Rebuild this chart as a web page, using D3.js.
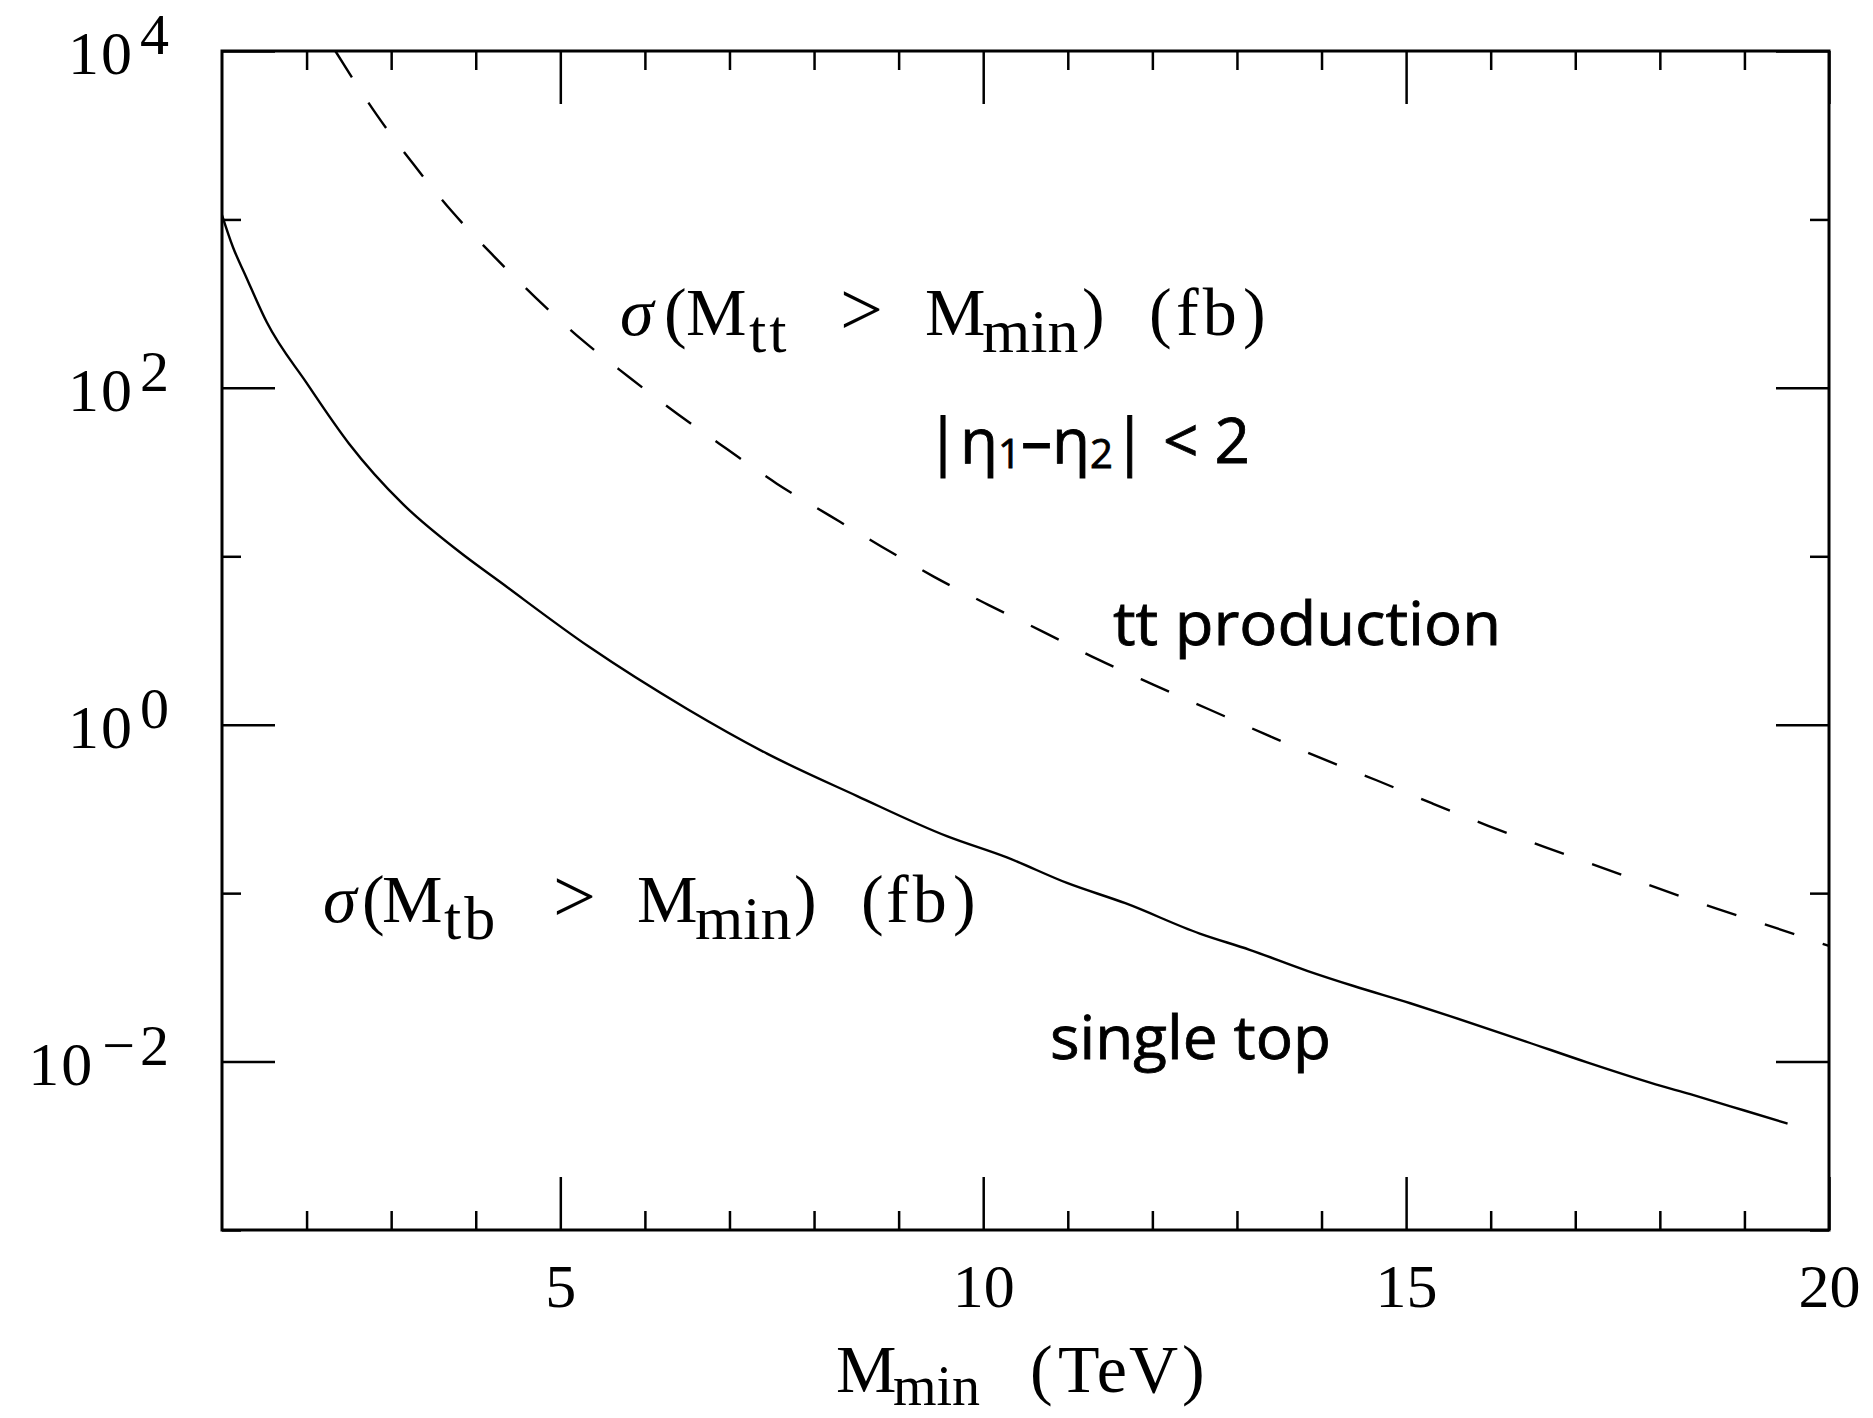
<!DOCTYPE html>
<html>
<head>
<meta charset="utf-8">
<script src="https://cdn.jsdelivr.net/npm/d3@7"></script>
<style>
  html, body { margin: 0; padding: 0; background: #fff; }
  svg { display: block; }
</style>
</head>
<body>
<script>
// Integrated cross sections above a minimum invariant mass, M_min in TeV, sigma in fb.

// Single top: sigma(M_tb > M_min)
const singleTopMmin = [1.0, 1.13, 1.28, 1.53, 2.0, 2.5, 3.14, 3.81, 4.29, 5.34, 6.5, 7.45, 8.51,
  9.57, 10.28, 10.99, 11.68, 12.56, 13.15, 13.83, 14.38, 15.05, 15.51, 16.41, 17.14, 17.95,
  18.36, 18.99, 19.51];
const singleTopSigma = [1062, 684, 462, 245, 107, 46.8, 20.4, 10.6, 7.03, 2.90, 1.24, 0.671, 0.377,
  0.218, 0.163, 0.115, 0.0871, 0.0575, 0.0461, 0.0346, 0.0281, 0.0222, 0.0187, 0.0132, 0.00989,
  0.00733, 0.0064, 0.00514, 0.00428];

// tt production: sigma(M_tt > M_min)
const ttbarMmin = [2.34, 2.83, 3.26, 3.72, 4.21, 4.72, 5.25, 5.81, 6.39, 6.97, 7.56, 8.18, 8.80,
  9.42, 10.06, 10.71, 11.35, 12.01, 12.66, 13.32, 13.98, 14.65, 15.31, 15.97, 16.65, 17.33,
  18.0, 18.68, 19.37, 20.0];
const ttbarSigma = [10000, 4178, 2138, 1114, 608, 339, 194, 116, 69.7, 43.3, 27.0, 17.5, 11.4,
  7.55, 5.15, 3.56, 2.45, 1.73, 1.24, 0.885, 0.637, 0.468, 0.341, 0.251, 0.187, 0.141,
  0.106, 0.0807, 0.0622, 0.0486];

// Axis ticks and their labels
const xMajorTicks = [5, 10, 15, 20];
const xTickLabels = ["5", "10", "15", "20"];
const xMinorTicks = [2, 3, 4, 6, 7, 8, 9, 11, 12, 13, 14, 16, 17, 18, 19];
const yMajorTicks = [1e4, 1e2, 1e0, 1e-2];
const yTickBase = "10";
const yTickExponents = ["4", "2", "0", "−2"];
const yMinorTicks = [1e3, 1e1, 1e-1, 1e-3];

const W = 1873, H = 1418;
const plot = { left: 222, right: 1829, top: 51, bottom: 1230 };

const x = d3.scaleLinear().domain([1, 20]).range([plot.left, plot.right]);
const y = d3.scaleLog().domain([1e-3, 1e4]).range([plot.bottom, plot.top]);

const svg = d3.select("body").append("svg")
  .attr("width", W).attr("height", H)
  .attr("viewBox", `0 0 ${W} ${H}`);

const SERIF = "'Liberation Serif', 'Times New Roman', serif";
const SANS = "'Open Sans', 'Noto Sans', sans-serif";

// Frame
svg.append("rect")
  .attr("x", x(1)).attr("y", y(1e4))
  .attr("width", x(20) - x(1)).attr("height", y(1e-3) - y(1e4))
  .attr("fill", "none").attr("stroke", "#000").attr("stroke-width", 3);

// Inward ticks on all four sides
function tickSet(axisGen, transform) {
  const g = svg.append("g").attr("transform", transform).call(axisGen);
  g.select(".domain").remove();
  g.selectAll(".tick line").attr("stroke", "#000").attr("stroke-width", 2.5);
  return g;
}
const MAJOR = 53, MINOR = 19;

const bottomMajor = tickSet(
  d3.axisBottom(x).tickValues(xMajorTicks).tickSize(-MAJOR).tickFormat((d, i) => xTickLabels[i]),
  `translate(0,${plot.bottom})`);
bottomMajor.selectAll(".tick text")
  .attr("y", 77).attr("dy", null)
  .attr("fill", "#000")
  .style("font-family", SERIF).style("font-size", "62px");
tickSet(d3.axisBottom(x).tickValues(xMinorTicks).tickSize(-MINOR).tickFormat(""),
  `translate(0,${plot.bottom})`);
tickSet(d3.axisTop(x).tickValues(xMajorTicks).tickSize(-MAJOR).tickFormat(""),
  `translate(0,${plot.top})`);
tickSet(d3.axisTop(x).tickValues(xMinorTicks).tickSize(-MINOR).tickFormat(""),
  `translate(0,${plot.top})`);

tickSet(d3.axisLeft(y).tickValues(yMajorTicks).tickSize(-MAJOR).tickFormat(""),
  `translate(${plot.left},0)`);
tickSet(d3.axisLeft(y).tickValues(yMinorTicks).tickSize(-MINOR).tickFormat(""),
  `translate(${plot.left},0)`);
tickSet(d3.axisRight(y).tickValues(yMajorTicks).tickSize(-MAJOR).tickFormat(""),
  `translate(${plot.right},0)`);
tickSet(d3.axisRight(y).tickValues(yMinorTicks).tickSize(-MINOR).tickFormat(""),
  `translate(${plot.right},0)`);

// Y tick labels as powers of ten
const yLabels = svg.append("g")
  .style("font-family", SERIF).style("font-size", "62px");
yLabels.selectAll("text")
  .data(yMajorTicks)
  .join("text")
  .attr("x", 169)
  .attr("y", d => y(d) + 23)
  .attr("text-anchor", "end")
  .each(function (d, i) {
    const t = d3.select(this);
    t.append("tspan").attr("letter-spacing", 2).text(yTickBase);
    const exp = yTickExponents[i];
    if (exp.startsWith("−")) {
      t.append("tspan").attr("dx", 8).attr("dy", -20).style("font-size", "58px").text("−");
      t.append("tspan").attr("dx", 5).style("font-size", "58px").text(exp.slice(1));
    } else {
      t.append("tspan").attr("dx", 6).attr("dy", -20).style("font-size", "58px").text(exp);
    }
  });

// Curves
const line = d3.line().x(d => x(d[0])).y(d => y(d[1])).curve(d3.curveMonotoneX);

svg.append("path")
  .datum(singleTopMmin.map((m, i) => [m, singleTopSigma[i]]))
  .attr("d", line)
  .attr("fill", "none").attr("stroke", "#000").attr("stroke-width", 2.4)
  .attr("stroke-linejoin", "round");

svg.append("path")
  .datum(ttbarMmin.map((m, i) => [m, ttbarSigma[i]]))
  .attr("d", line)
  .attr("fill", "none").attr("stroke", "#000").attr("stroke-width", 2.4)
  .attr("stroke-dasharray", "31,30");

// Typeset labels: each piece placed at its own x; subscripts dropped below the baseline
function mathLabel(pieces, baseline, size, subSize, subDrop) {
  const t = svg.append("text")
    .style("font-family", SERIF).style("font-size", size + "px").attr("fill", "#000");
  pieces.forEach(([px, str, kind, spacing]) => {
    const sub = kind === "sub";
    const ts = t.append("tspan")
      .attr("x", px)
      .attr("y", baseline + (sub ? subDrop : 0))
      .style("font-size", (sub ? subSize : kind === "rel" ? size * 1.12 : size) + "px")
      .style("font-style", kind === "ital" ? "italic" : "normal")
      .text(str);
    if (spacing) ts.attr("letter-spacing", spacing);
  });
}

mathLabel([
  [620, "σ", "ital"], [664, "("], [686, "M"], [749, "tt", "sub", 3],
  [840, ">", "rel"], [925, "M"], [982, "min", "sub"], [1082, ")"],
  [1149, "("], [1176, "fb", null, 4], [1243, ")"]
], 335, 68, 62, 17);

mathLabel([
  [323, "σ", "ital"], [362, "("], [382, "M"], [444, "tb", "sub", 3],
  [553, ">", "rel"], [637, "M"], [695, "min", "sub"], [794, ")"],
  [861, "("], [886, "fb", null, 4], [953, ")"]
], 922, 68, 62, 17);

// X axis title
mathLabel([
  [836, "M"], [893, "min", "sub"], [1030, "("], [1058, "TeV", null, 2], [1182, ")"]
], 1392, 68, 56, 13);

// Sans-serif annotations
const eta = svg.append("text")
  .attr("x", 926).attr("y", 463)
  .attr("textLength", 324).attr("lengthAdjust", "spacingAndGlyphs")
  .style("font-family", SANS).style("font-size", "62px").attr("fill", "#000")
  .attr("stroke", "#000").attr("stroke-width", 0.8);
eta.append("tspan").text("|η");
eta.append("tspan").attr("dy", 5).style("font-size", "40px").text("1");
eta.append("tspan").attr("dy", -5).text("–η");
eta.append("tspan").attr("dy", 5).style("font-size", "40px").text("2");
eta.append("tspan").attr("dy", -5).text("| < 2");

svg.append("text")
  .attr("x", 1113).attr("y", 645)
  .attr("textLength", 388).attr("lengthAdjust", "spacingAndGlyphs")
  .style("font-family", SANS).style("font-size", "61px").attr("fill", "#000")
  .attr("stroke", "#000").attr("stroke-width", 0.8)
  .text("tt production");

svg.append("text")
  .attr("x", 1050).attr("y", 1059)
  .attr("textLength", 281).attr("lengthAdjust", "spacingAndGlyphs")
  .style("font-family", SANS).style("font-size", "61px").attr("fill", "#000")
  .attr("stroke", "#000").attr("stroke-width", 0.8)
  .text("single top");
</script>
</body>
</html>
